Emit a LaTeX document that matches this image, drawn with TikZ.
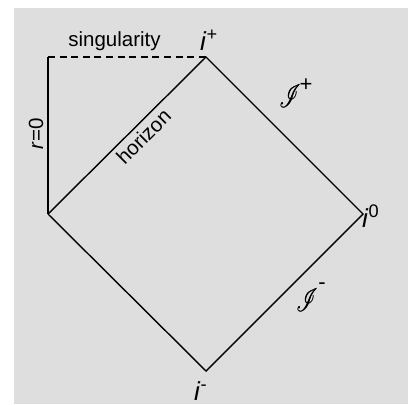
\documentclass[tikz,border=0pt]{standalone}
\usepackage{fontspec}
\usepackage{mathrsfs}
\setmainfont{Liberation Sans}
\newcommand{\heavyscri}{\leavevmode\rlap{$\mathscr{I}$}\kern0.35pt$\mathscr{I}$}
\begin{document}
\begin{tikzpicture}[x=1pt,y=-1pt,
  edge/.style={line width=1.4pt, line cap=butt},
  lbl/.style={inner sep=0pt, font=\fontsize{20.5}{24}\selectfont},
  pt/.style={inner sep=0pt, font=\fontsize{26}{30}\selectfont},
  scri/.style={inner sep=0pt, font=\fontsize{42}{46}\selectfont, xscale=0.85, yscale=1.3}]
\useasboundingbox (0,0) rectangle (414,404);
\fill[fill={rgb,255:red,222;green,222;blue,222}] (14,8) rectangle (408,404);
\coordinate (tl) at (48,57);
\coordinate (top) at (206,57);
\coordinate (left) at (48,214);
\coordinate (right) at (363,214);
\coordinate (bot) at (206,371);
\draw[edge, dash pattern=on 7pt off 4.6pt] (tl) -- (top);
\draw[edge] (tl) -- (left);
\draw[edge] (left) -- (top) -- (right) -- (bot) -- (left);
\node[lbl, anchor=base] (sing) at (114.5,46) {singularity};
\node[lbl, rotate=90, anchor=base] (rz) at (43,134) {\textit{r}=0};
\node[lbl, rotate=45] (hor) at (143.5,136.5) {horizon};
\node[pt, anchor=base west] (ip) at (200,50) {\textit{i}\textsuperscript{+}};
\node[pt, anchor=base west] (i0) at (362,227) {\textit{i}\textsuperscript{0}};
\node[pt, anchor=base west] (im) at (194,400) {\textit{i}\textsuperscript{-}};
\node[scri, anchor=center] (sp) at (290,96) {\heavyscri};
\node[pt, anchor=center, font=\fontsize{22}{26}\selectfont] (spp) at (306,85) {+};
\node[scri, anchor=center] (sm) at (307,300) {\heavyscri};
\node[pt, anchor=center, font=\fontsize{22}{26}\selectfont] (smm) at (322,286) {-};
\end{tikzpicture}
\end{document}
